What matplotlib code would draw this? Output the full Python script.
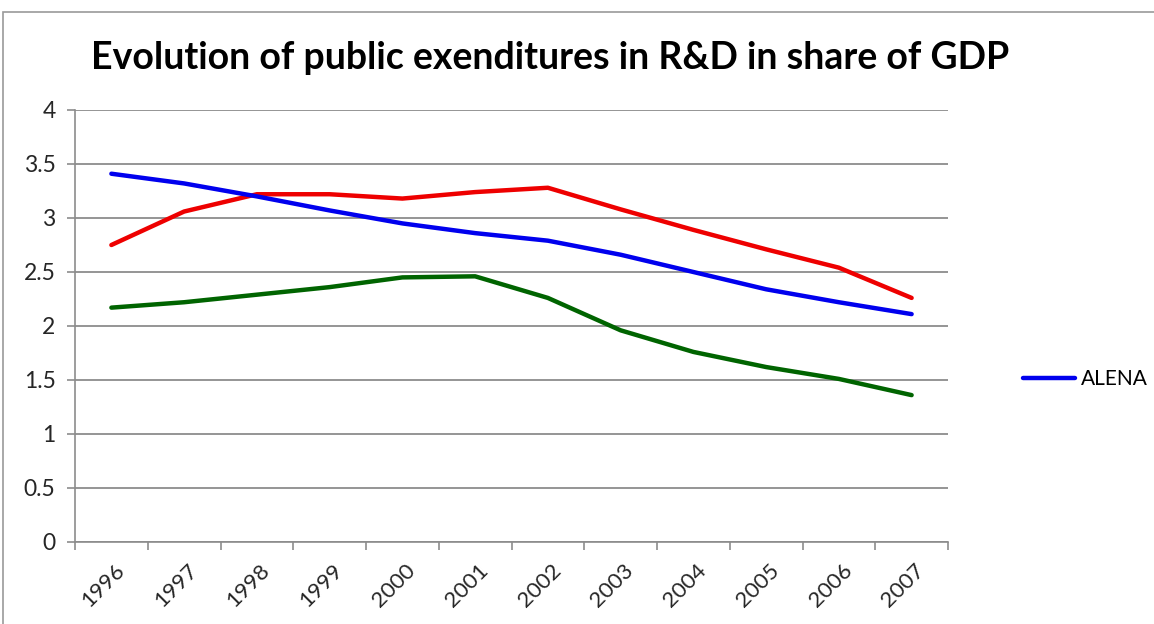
import matplotlib
matplotlib.use("Agg")
import matplotlib.pyplot as plt
from matplotlib.patches import Rectangle
from matplotlib.ticker import FixedLocator, FuncFormatter
from matplotlib.transforms import ScaledTranslation

years = ["1996", "1997", "1998", "1999", "2000", "2001", "2002", "2003", "2004", "2005", "2006", "2007"]
alena = [3.41, 3.32, 3.20, 3.07, 2.95, 2.86, 2.79, 2.66, 2.50, 2.34, 2.22, 2.11]
red_series = [2.75, 3.06, 3.22, 3.22, 3.18, 3.24, 3.28, 3.08, 2.89, 2.71, 2.54, 2.26]
green_series = [2.17, 2.22, 2.29, 2.36, 2.45, 2.46, 2.26, 1.96, 1.76, 1.62, 1.51, 1.36]
yticks = [0, 0.5, 1, 1.5, 2, 2.5, 3, 3.5, 4]

plt.rcParams['font.family'] = ['Lato', 'DejaVu Sans']

fig = plt.figure(figsize=(11.54, 6.24), dpi=100)
fig.patches.append(Rectangle((3/1154, -0.01), 1.02, 1 - 12/624 + 0.01, transform=fig.transFigure,
                             fill=False, edgecolor='#9a9a9a', linewidth=1.2))

ax = fig.add_axes([75/1154, 1 - 542/624, (948 - 75)/1154, (542 - 110)/624])
x = list(range(len(years)))
ax.plot(x, green_series, color='#006400', lw=3.2, solid_capstyle='round', zorder=3)
ax.plot(x, red_series, color='#EE0000', lw=3.2, solid_capstyle='round', zorder=3)
ax.plot(x, alena, color='#0000EE', lw=3.2, solid_capstyle='round', zorder=4, label='ALENA')

ax.set_xlim(-0.5, len(years) - 0.5)
ax.set_ylim(0, 4)
ax.set_yticks(yticks)
ax.yaxis.set_major_formatter(FuncFormatter(lambda v, p: f"{v:g}"))
ax.grid(axis='y', color='#8c8c8c', lw=1.3)
ax.set_axisbelow(True)

ax.xaxis.set_major_locator(FixedLocator([i - 0.5 for i in range(len(years) + 1)]))
ax.xaxis.set_major_formatter(FuncFormatter(lambda v, p: ""))
ax.xaxis.set_minor_locator(FixedLocator(x))
ax.set_xticklabels(years, minor=True, rotation=45, fontsize=16, color='#262626')
ax.tick_params(axis='x', which='major', length=6, color='#8c8c8c', width=1.2)
ax.tick_params(axis='y', length=6, color='#8c8c8c', width=1.2, labelsize=16.5, labelcolor='#262626', pad=8)
ax.tick_params(axis='x', which='minor', length=0, pad=18)
offset = ScaledTranslation(10/100, 0, fig.dpi_scale_trans)
for lbl in ax.get_xticklabels(minor=True):
    lbl.set_rotation_mode('anchor')
    lbl.set_ha('right')
    lbl.set_va('center')
    lbl.set_transform(lbl.get_transform() + offset)

for s in ['top', 'right']:
    ax.spines[s].set_visible(False)
for s in ['left', 'bottom']:
    ax.spines[s].set_color('#8c8c8c')
    ax.spines[s].set_linewidth(1.2)

fig.text(550/1154, 1 - 58/624, "Evolution of public exenditures in R&D in share of GDP",
         ha='center', va='center', fontsize=27, fontweight='bold', color='#000000')

leg = fig.legend(handles=[ax.lines[2]], labels=['ALENA'], loc='center left',
                 bbox_to_anchor=(1004/1154, 1 - 379/624), frameon=False, fontsize=15,
                 handlelength=2.5, handletextpad=0.3)

fig.savefig("out.png", dpi=100)
